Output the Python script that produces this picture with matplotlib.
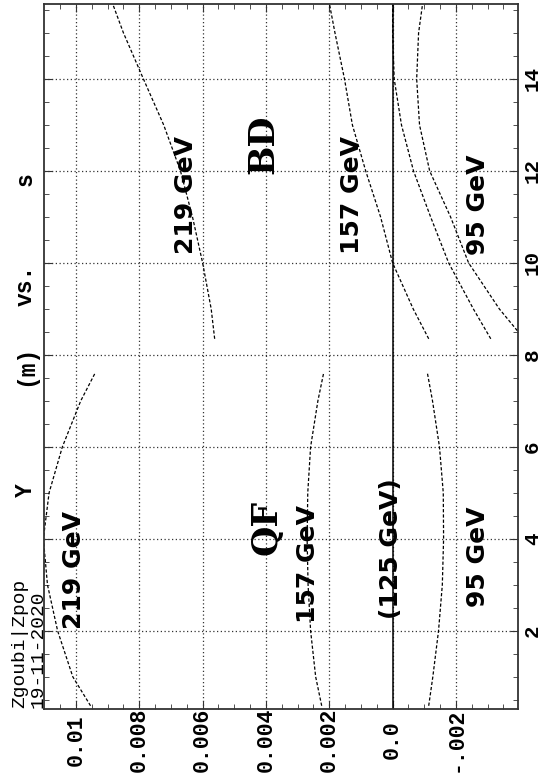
import matplotlib
matplotlib.use("Agg")
import matplotlib.pyplot as plt
import numpy as np

# ---------------- data ----------------
s_qf = [0.37, 1.0, 2.0, 3.0, 4.0, 5.0, 6.0, 7.0, 7.6]
y_qf_219 = [0.00954, 0.01010, 0.01058, 0.01090, 0.01103, 0.01085, 0.01043, 0.00985, 0.00940]
y_qf_157 = [0.00224, 0.00243, 0.00259, 0.00267, 0.00270, 0.00268, 0.00259, 0.00236, 0.00218]
y_qf_95 = [-0.00114, -0.00127, -0.00145, -0.00157, -0.00161, -0.00160, -0.00148, -0.00126, -0.00110]

s_bd = [8.35, 9.0, 10.0, 11.0, 12.0, 13.0, 14.0, 15.0, 15.65]
y_bd_219 = [0.00562, 0.00573, 0.00600, 0.00632, 0.00670, 0.00723, 0.00787, 0.00850, 0.00885]
y_bd_157 = [-0.00114, -0.00065, 0.00000, 0.00038, 0.00085, 0.00127, 0.00152, 0.00182, 0.00200]
y_bd_95a = [-0.00310, -0.00255, -0.00177, -0.00120, -0.00066, -0.00028, -0.00005, 0.00000, 0.00000]
y_bd_95b = [-0.00415, -0.00337, -0.00240, -0.00183, -0.00117, -0.00085, -0.00076, -0.00082, -0.00095]

s_ref = [0.3, 15.65]
y_ref_125 = [0.0, 0.0]

y_ticks = [0.01, 0.008, 0.006, 0.004, 0.002, 0.0, -0.002]
y_tick_labels = ["0.01", "0.008", "0.006", "0.004", "0.002", "0.0", "-.002"]
s_ticks = [2, 4, 6, 8, 10, 12, 14]
s_tick_labels = ["2", "4", "6", "8", "10", "12", "14"]

# labels: (text, Y, s)
curve_labels = [
    ("219 GeV", 0.01006, 3.33),
    ("157 GeV", 0.00267, 3.46),
    ("(125 GeV)", 0.00005, 3.78),
    ("95 GeV", -0.00269, 3.61),
    ("219 GeV", 0.00652, 11.48),
    ("157 GeV", 0.00128, 11.48),
    ("95 GeV", -0.00269, 11.26),
]
magnet_labels = [("QF", 0.00397, 4.24), ("BD", 0.00409, 12.57)]

# ---------------- figure ----------------
W, H = 543, 776
fig = plt.figure(figsize=(W / 100, H / 100), dpi=100)
fig.patch.set_facecolor("white")
ax = fig.add_axes([44 / W, 1 - 709 / H, (518 - 44) / W, (709 - 4) / H])

ax.set_xlim(0.01101, -0.00396)
ax.set_ylim(0.30, 15.63)

dash = (0, (2.6, 1.6))
for yv, sv in [(y_qf_219, s_qf), (y_qf_157, s_qf), (y_qf_95, s_qf),
               (y_bd_219, s_bd), (y_bd_157, s_bd), (y_bd_95a, s_bd), (y_bd_95b, s_bd)]:
    ax.plot(yv, sv, color="black", lw=0.9, ls=dash)
ax.plot(y_ref_125, s_ref, color="black", lw=1.1)

ax.set_xticks(y_ticks)
ax.set_xticklabels(y_tick_labels)
ax.set_xticks(np.arange(-0.0035, 0.0110, 0.0005), minor=True)
ax.set_yticks(s_ticks)
ax.set_yticklabels(s_tick_labels)
ax.set_yticks(np.arange(0.5, 15.6, 0.5), minor=True)

ax.grid(True, which="major", color="#333333", lw=0.9, ls=(0, (1, 2)))
ax.tick_params(which="both", direction="in", top=True, bottom=True, left=True, right=True,
               labelleft=False, labelright=True, labelbottom=True, color="#333333")
ax.tick_params(which="major", length=5.5)
ax.tick_params(which="minor", length=3.5)
ax.tick_params(axis="x", pad=22.3)
ax.tick_params(axis="y", pad=10.5)
for lbl in ax.get_xticklabels():
    lbl.set_fontsize(15.5)
for lbl in ax.get_yticklabels():
    lbl.set_fontsize(15)
for lbl in ax.get_xticklabels() + ax.get_yticklabels():
    lbl.set_rotation(90)
    lbl.set_va("center")
    lbl.set_ha("center")
    lbl.set_fontfamily("Liberation Mono")
    lbl.set_fontweight("bold")
for sp in ax.spines.values():
    sp.set_linewidth(1.3)
    sp.set_color("#333333")

for txt, yv, sv in curve_labels:
    ax.text(yv, sv, txt, rotation=90, rotation_mode="anchor", ha="center", va="center",
            fontfamily="DejaVu Sans", fontweight="bold", fontsize=18)
for txt, yv, sv in magnet_labels:
    ax.text(yv, sv, txt, rotation=90, rotation_mode="anchor", ha="center", va="center",
            fontfamily="DejaVu Serif", fontweight="bold", fontsize=25)

def fx(px):
    return px / W

def fy(py):
    return 1 - py / H

# title (rotated)
for txt, py in [("Y", 490), ("(m)", 365), ("vs.", 285), ("s", 179)]:
    fig.text(fx(32), fy(py), txt, rotation=90, rotation_mode="anchor", ha="center",
             va="baseline", fontfamily="Liberation Mono", fontweight="bold", fontsize=16.5)

fig.text(fx(24), fy(708), "Zgoubi|Zpop", rotation=90, rotation_mode="anchor", ha="left",
         va="baseline", fontfamily="Liberation Mono", fontsize=14)
fig.text(fx(43), fy(708), "19-11-2020", rotation=90, rotation_mode="anchor", ha="left",
         va="baseline", fontfamily="Liberation Mono", fontsize=14)

fig.savefig("out.png", dpi=100)
